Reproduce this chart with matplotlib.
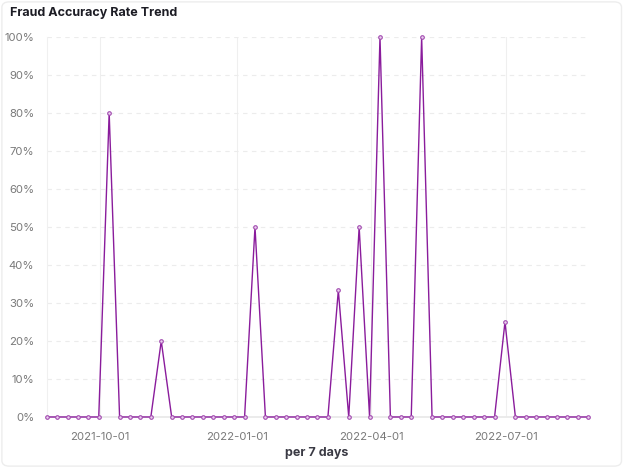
import matplotlib
matplotlib.use("Agg")
import matplotlib.pyplot as plt
from matplotlib.patches import FancyBboxPatch
from matplotlib.ticker import FuncFormatter, MultipleLocator
import numpy as np
import pandas as pd

plt.rcParams['font.family'] = ['Inter', 'DejaVu Sans']

start_date = "2021-08-26"
n_weeks = 53
rates = [0, 0, 0, 0, 0, 0, 80, 0, 0, 0, 0, 20, 0, 0, 0, 0, 0, 0, 0, 0,
         50, 0, 0, 0, 0, 0, 0, 0, 33.33, 0, 50, 0, 100, 0, 0, 0, 100,
         0, 0, 0, 0, 0, 0, 0, 25, 0, 0, 0, 0, 0, 0, 0, 0]
dates = pd.date_range(start_date, periods=n_weeks, freq="7D")
tick_dates = ["2021-10-01", "2022-01-01", "2022-04-01", "2022-07-01"]
title = "Fraud Accuracy Rate Trend"
xlabel = "per 7 days"

fig = plt.figure(figsize=(6.24, 4.68), dpi=100)
card = FancyBboxPatch((0.003, 0.004), 0.993, 0.992, boxstyle="round,pad=0,rounding_size=0.012",
                      transform=fig.transFigure, facecolor="white", edgecolor="#ededed", lw=1.0,
                      zorder=-10)
fig.patches.append(card)

ax = fig.add_axes([0.0748, 0.109, 0.868, 0.812])
ax.set_zorder(5)
ax.set_facecolor("none")
y = np.array(rates) / 100.0
ax.plot(dates, y, color="#8a1c9c", lw=1.0, marker="o", ms=2.6, mfc="#ead0ee",
        mec="#a24bb0", mew=0.8, zorder=3, clip_on=False)

ax.set_xlim(dates[0], dates[-1])
ax.set_ylim(0, 1)
ax.yaxis.set_major_locator(MultipleLocator(0.1))
ax.yaxis.set_major_formatter(FuncFormatter(lambda v, p: f"{int(round(v*100))}%"))
tds = pd.to_datetime(tick_dates)
ax.set_xticks(tds)
ax.set_xticklabels(tick_dates)

ax.grid(axis="y", color="#ececec", lw=0.8, ls=(0, (4, 4)))
ax.grid(axis="x", color="#efefef", lw=0.8, ls="-")
for s in ["top", "right"]:
    ax.spines[s].set_visible(False)
ax.spines["left"].set_color("#f0f0f0")
ax.spines["bottom"].set_color("#e8e8e8")
ax.spines["bottom"].set_linewidth(1.2)
ax.tick_params(axis="both", length=0, labelsize=8.2, colors="#7a7a7a")
ax.tick_params(axis="x", pad=11)
ax.tick_params(axis="y", pad=9)

fig.text(0.016, 0.972, title, fontsize=9, fontweight="bold", color="#1c1c24", va="center", ha="left")
fig.text(0.507, 0.031, xlabel, fontsize=9, fontweight="bold", color="#3a3a44", va="center", ha="center")

fig.savefig("out.png", dpi=100)
